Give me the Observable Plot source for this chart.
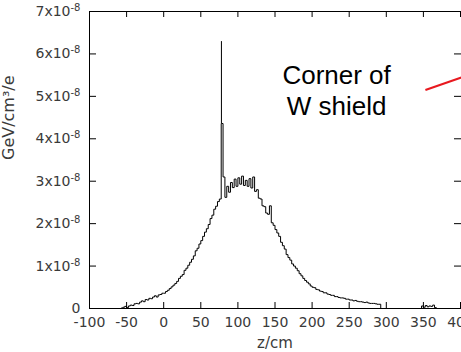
<!DOCTYPE html>
<html><head><meta charset="utf-8">
<script src="https://cdn.jsdelivr.net/npm/d3@7"></script>
<script src="https://cdn.jsdelivr.net/npm/@observablehq/plot@0.6"></script>
<style>
html,body{margin:0;padding:0;background:#fff;}
#chart svg{display:block;}
</style></head><body><div id="chart"></div>
<script>
// Energy deposition histogram, values in units of 1e-8 GeV/cm^3/e
const binStart = -57.5;   // cm, left edge of first bin
const binWidth = 2.5;     // cm
const flux = [
  0.01,0.03,0.05,0.02,0.06,0.08,0.07,0.11,0.12,0.11,
  0.15,0.18,0.16,0.21,0.20,0.24,0.23,0.27,0.30,0.27,
  0.32,0.33,0.36,0.36,0.40,0.43,0.47,0.51,0.55,0.59,
  0.64,0.71,0.76,0.80,0.90,0.95,1.02,1.09,1.16,1.24,
  1.36,1.42,1.52,1.60,1.70,1.80,1.88,1.98,2.12,2.20,
  2.34,2.41,2.52,2.58,4.36,3.10,2.62,2.88,2.74,2.97,
  2.85,3.05,2.88,3.08,2.93,3.12,2.90,3.02,2.88,3.06,
  2.84,3.10,2.76,2.80,2.60,2.58,2.42,2.40,2.25,2.22,
  2.42,2.02,1.96,1.86,1.78,1.70,1.56,1.48,1.40,1.27,
  1.20,1.14,1.05,1.00,0.95,0.89,0.82,0.77,0.71,0.66,
  0.62,0.58,0.53,0.50,0.49,0.45,0.44,0.41,0.40,0.37,
  0.37,0.34,0.33,0.31,0.31,0.28,0.28,0.26,0.25,0.25,
  0.24,0.22,0.22,0.20,0.20,0.18,0.19,0.17,0.16,0.16,
  0.15,0.14,0.15,0.13,0.12,0.12,0.12,0.11,0.10,0.10
];
// narrow spike at the W shield corner
const spike = [{z: 77.8, base: 4.36, peak: 6.29}];
const tailStart = 347.5;  // cm, small far-out deposits
const tailFlux = [0.06,0.03,0.07,0.04,0.06,0.05,0.08,0.02];

const xTicks = [-100,-50,0,50,100,150,200,250,300,350,400];
const yTicks = [0,1,2,3,4,5,6,7];
const xLabel = "z/cm";
const yLabel = "GeV/cm³/e";
const note = [{z: 233, v: 5.16, text: "Corner of\nW shield"}];
const arrow = [{z1: 352.7, v1: 5.15, z2: 402, v2: 5.45}];

function steps(start, width, vals) {
  const pts = [{z: start, v: 0}];
  vals.forEach((v, i) => pts.push({z: start + i * width, v}));
  pts.push({z: start + vals.length * width, v: 0});
  return pts;
}
const main = steps(binStart, binWidth, flux);
const tail = steps(tailStart, binWidth, tailFlux);

const labelColor = "#3a3a3a";
const chart = Plot.plot({
  width: 461, height: 352,
  marginLeft: 89, marginRight: 1, marginTop: 11, marginBottom: 44,
  style: {fontFamily: "DejaVu Sans", fontSize: "14px", color: "#000", background: "#fff"},
  x: {domain: [-100, 400]},
  y: {domain: [0, 7]},
  marks: [
    Plot.line(main, {x: "z", y: "v", curve: "step-after", stroke: "#000", strokeWidth: 1}),
    Plot.ruleX(spike, {x: "z", y1: "base", y2: "peak", stroke: "#000", strokeWidth: 1}),
    Plot.line(tail, {x: "z", y: "v", curve: "step-after", stroke: "#000", strokeWidth: 1}),
    Plot.ruleX([-100], {stroke: "#000"}),
    Plot.ruleY([0], {stroke: "#000"}),
    Plot.ruleY([7], {stroke: "#000"}),
    // inward tick marks
    Plot.axisX(xTicks, {anchor: "bottom", fill: "none", stroke: "#000", tickSize: 6, dy: -6, label: null}),
    Plot.axisX(xTicks, {anchor: "top", fill: "none", stroke: "#000", tickSize: 5, dy: 5, label: null}),
    Plot.axisY(yTicks, {anchor: "left", fill: "none", stroke: "#000", tickSize: 7, dx: 7, label: null}),
    Plot.axisY(yTicks, {anchor: "right", fill: "none", stroke: "#000", tickSize: 7, dx: -7, label: null}),
    // tick labels
    Plot.axisX(xTicks, {anchor: "bottom", tickSize: 0, tickPadding: 9, fill: labelColor, tickFormat: d => String(d), label: null}),
    Plot.axisY(yTicks, {anchor: "left", tickSize: 0, tickPadding: 9, fill: labelColor, tickFormat: d => d === 0 ? "0" : `${d}x10^-8`, label: null}),
    // axis titles
    Plot.text([xLabel], {frameAnchor: "bottom", dy: 39, fill: labelColor, fontSize: 15}),
    Plot.text([yLabel], {frameAnchor: "left", dx: -81, rotate: -90, fill: labelColor, fontSize: 16}),
    // annotation
    Plot.text(note, {x: "z", y: "v", text: "text", fontSize: 26, lineHeight: 1.19, fontFamily: "Liberation Sans, Arial, sans-serif", fill: "#000"}),
    Plot.link(arrow, {x1: "z1", y1: "v1", x2: "z2", y2: "v2", stroke: "#e8191f", strokeWidth: 2})
  ]
});

d3.select(chart).selectAll('g[aria-label="y-axis tick label"] text').each(function() {
  const t = this.textContent;
  if (t.includes("^")) {
    const [m, e] = t.split("^");
    const sel = d3.select(this);
    sel.text("");
    sel.append("tspan").text(m);
    sel.append("tspan").attr("dy", "-0.5em").attr("font-size", "10px").text(e);
  }
});
document.getElementById("chart").appendChild(chart);
</script></body></html>
